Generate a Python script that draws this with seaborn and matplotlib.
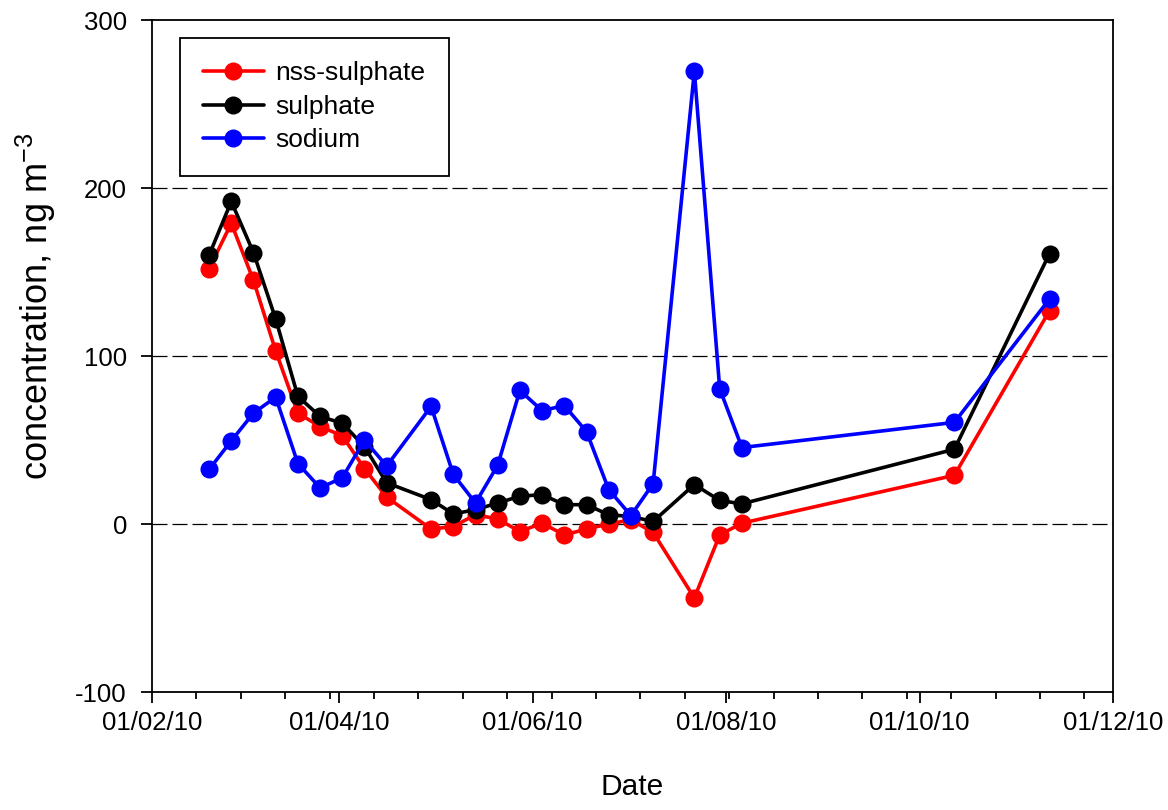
import matplotlib
matplotlib.use('Agg')
import matplotlib.pyplot as plt
import matplotlib.dates as mdates
import matplotlib.ticker as mticker
import numpy as np
import pandas as pd
import seaborn as sns

# ---------------- data ----------------
dates = ['2010-02-19', '2010-02-26', '2010-03-05', '2010-03-12', '2010-03-19',
         '2010-03-26', '2010-04-02', '2010-04-09', '2010-04-16', '2010-04-30',
         '2010-05-07', '2010-05-14', '2010-05-21', '2010-05-28', '2010-06-04',
         '2010-06-11', '2010-06-18', '2010-06-25', '2010-07-02', '2010-07-09',
         '2010-07-22', '2010-07-30', '2010-08-06', '2010-10-12', '2010-11-11']
nss_sulphate = [152, 179, 145, 103, 66, 58, 52.5, 33, 16, -3,
                -1.5, 5.5, 3, -4.5, 0.5, -6.5, -3, 0, 2.5, -5,
                -44, -6.5, 0.5, 29, 127]
sulphate = [160, 192, 161.5, 122, 76, 64, 60, 46, 24.5, 14.5,
            6, 8.5, 12.5, 16.5, 17.5, 11.5, 11.5, 5.5, 4.5, 1.5,
            23.5, 14, 12, 44.5, 161]
sodium = [32.5, 49.5, 66, 75.5, 36, 21.5, 27.5, 50, 34.5, 70,
          29.5, 12.5, 35, 79.5, 67.5, 70.5, 55, 20.5, 5, 24,
          269.5, 80.5, 45.5, 60.5, 134]
series_names = ['nss-sulphate', 'sulphate', 'sodium']
series_colors = ['#ff0000', '#000000', '#0000ff']
y_ticks = [-100, 0, 100, 200, 300]
ref_lines = [0, 100, 200]

# ---------------- build long frame ----------------
x_dates = pd.to_datetime(dates)
df = pd.concat([
    pd.DataFrame({'Date': x_dates, 'value': vals, 'series': name})
    for name, vals in zip(series_names, [nss_sulphate, sulphate, sodium])
], ignore_index=True)

sns.set_style('ticks')
plt.rcParams['font.family'] = ['Liberation Sans', 'DejaVu Sans']
plt.rcParams['mathtext.fontset'] = 'custom'
plt.rcParams['mathtext.rm'] = 'Liberation Sans'
plt.rcParams['mathtext.it'] = 'Liberation Sans'
plt.rcParams['axes.unicode_minus'] = False
for key in ['text.color', 'axes.labelcolor', 'xtick.color', 'ytick.color',
            'xtick.labelcolor', 'ytick.labelcolor']:
    plt.rcParams[key] = 'black'

fig = plt.figure(figsize=(11.68, 8.10), dpi=100)
ax = fig.add_axes([152 / 1168, 1 - 692 / 810, (1113 - 152) / 1168, (692 - 20) / 810])

for yv in ref_lines:
    ax.axhline(yv, color='black', lw=0.9, linestyle=(0, (12, 4)), zorder=0)

sns.lineplot(data=df, x='Date', y='value', hue='series', hue_order=series_names,
             palette=dict(zip(series_names, series_colors)), marker='o',
             markersize=13, markeredgewidth=0, linewidth=2.6, ax=ax,
             estimator=None, sort=False)

ax.set_xlim(pd.Timestamp('2010-02-01'), pd.Timestamp('2010-12-01'))
ax.set_ylim(-100, 300)
ax.set_yticks(y_ticks)
ax.xaxis.set_major_locator(mdates.MonthLocator(bymonth=[2, 4, 6, 8, 10, 12]))
ax.xaxis.set_major_formatter(mdates.DateFormatter('%d/%m/%y'))
minor_pos = mdates.date2num(pd.date_range('2010-02-01', '2010-12-01', freq='14D'))
ax.xaxis.set_minor_locator(mticker.FixedLocator(minor_pos))

for sp in ax.spines.values():
    sp.set_visible(True)
    sp.set_color('black')
    sp.set_linewidth(1.3)

ax.tick_params(axis='x', which='major', labelsize=18.5, length=8, width=1.3,
               color='black', labelcolor='black', pad=6)
ax.tick_params(axis='y', which='major', labelsize=18.5, length=8, width=1.3,
               color='black', labelcolor='black', pad=10)
ax.tick_params(axis='x', which='minor', length=5, width=1.3, color='black')
ax.tick_params(axis='y', which='minor', length=0)
ax.tick_params(right=False, top=False)

ax.set_xlabel('Date', fontsize=21.5, labelpad=27)
ax.set_ylabel('concentration, ng m$^{-3}$', fontsize=26)
ax.yaxis.set_label_coords((58 - 152) / 961, (692 - 306) / 672)

handles, labels = ax.get_legend_handles_labels()
leg = ax.legend(handles, labels, loc='upper left', bbox_to_anchor=(0.029, 0.973),
                fontsize=19, frameon=True, fancybox=False, framealpha=1,
                edgecolor='black', handlelength=2.3, borderpad=0.88,
                labelspacing=0.36, handletextpad=0.45, borderaxespad=0)
leg.get_frame().set_linewidth(1.3)

fig.savefig('out.png', dpi=100, facecolor='white')
